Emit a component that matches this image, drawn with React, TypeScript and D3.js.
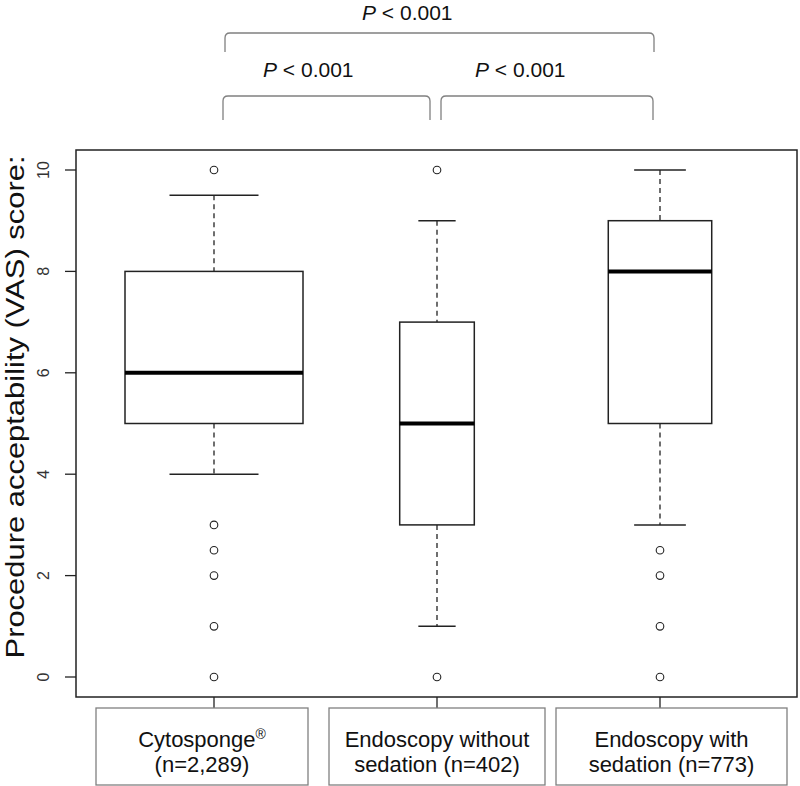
import React from "react";
import * as d3 from "d3";

const categories = ["Cytosponge", "Endoscopy without sedation", "Endoscopy with sedation"];
const labelLines = [
  ["Cytosponge\u00AE", "(n=2,289)"],
  ["Endoscopy without", "sedation (n=402)"],
  ["Endoscopy with", "sedation (n=773)"],
];
const sampleSizes = [2289, 402, 773];
const whiskerLow = [4, 1, 3];
const q1 = [5, 3, 5];
const medians = [6, 5, 8];
const q3 = [8, 7, 9];
const whiskerHigh = [9.5, 9, 10];
const outliers = [
  [10, 3, 2.5, 2, 1, 0],
  [10, 0],
  [2.5, 2, 1, 0],
];
const yTicks = [0, 2, 4, 6, 8, 10];
const pLabel = "P";
const pRest = " < 0.001";

const W = 800;
const H = 786;
const frame = { left: 76, right: 797, top: 150, bottom: 697 };
const FONT = "'Liberation Sans', Arial, Helvetica, sans-serif";

export default function App() {
  const y = d3.scaleLinear().domain([0, 10]).range([677, 170]);
  const x = d3.scaleLinear().domain([1, 3]).range([214, 660]);
  const wScale = d3.scaleSqrt().domain([0, d3.max(sampleSizes)!]).range([0, 178]);
  const labelBoxes = [
    [96, 308],
    [329, 545],
    [556, 787],
  ];
  const stroke = "#222";
  const gray = "#808080";

  const bracket = (x1: number, x2: number, yTop: number, yBot: number, r = 5) =>
    `M${x1},${yBot} L${x1},${yTop + r} Q${x1},${yTop} ${x1 + r},${yTop} L${x2 - r},${yTop} Q${x2},${yTop} ${x2},${yTop + r} L${x2},${yBot}`;

  const pText = (xs: number, yb: number, key: string) => (
    <text key={key} x={xs} y={yb} fontSize={21} fontFamily={FONT} fill="#111">
      <tspan fontStyle="italic">{pLabel}</tspan>
      <tspan>{pRest}</tspan>
    </text>
  );

  return (
    <svg
      width={W}
      height={H}
      style={{ position: "absolute", left: 0, top: 0, display: "block", background: "#fff" }}
    >
      <rect x={0} y={0} width={W} height={H} fill="#fff" />
      {/* significance brackets */}
      <path d={bracket(225, 654, 33, 52)} fill="none" stroke={gray} strokeWidth={1.3} />
      <path d={bracket(223, 430, 96, 120)} fill="none" stroke={gray} strokeWidth={1.3} />
      <path d={bracket(441, 653, 96, 120)} fill="none" stroke={gray} strokeWidth={1.3} />
      {pText(362, 20, "p0")}
      {pText(263, 77, "p1")}
      {pText(475, 77, "p2")}

      {/* plot frame */}
      <rect
        x={frame.left}
        y={frame.top}
        width={frame.right - frame.left}
        height={frame.bottom - frame.top}
        fill="none"
        stroke={stroke}
        strokeWidth={1.5}
      />

      {/* y axis */}
      {yTicks.map((t) => (
        <g key={t}>
          <line x1={65} x2={frame.left} y1={y(t)} y2={y(t)} stroke={stroke} strokeWidth={1.3} />
          <text
            transform={`translate(49,${y(t)}) rotate(-90)`}
            textAnchor="middle"
            fontSize={16}
            fontFamily={FONT}
            fill="#333"
          >
            {t}
          </text>
        </g>
      ))}
      <text
        transform={`translate(24,${407}) rotate(-90)`}
        textAnchor="middle"
        fontSize={25}
        fontFamily={FONT}
        fill="#111"
        textLength={503}
        lengthAdjust="spacingAndGlyphs"
      >
        Procedure acceptability (VAS) score:
      </text>

      {/* boxes */}
      {categories.map((c, i) => {
        const cx = x(i + 1);
        const bw = wScale(sampleSizes[i]);
        const sw = bw / 2;
        return (
          <g key={c}>
            <line x1={cx} x2={cx} y1={y(whiskerHigh[i])} y2={y(q3[i])} stroke={stroke} strokeWidth={1.3} strokeDasharray="5,4" />
            <line x1={cx} x2={cx} y1={y(q1[i])} y2={y(whiskerLow[i])} stroke={stroke} strokeWidth={1.3} strokeDasharray="5,4" />
            <line x1={cx - sw / 2} x2={cx + sw / 2} y1={y(whiskerHigh[i])} y2={y(whiskerHigh[i])} stroke={stroke} strokeWidth={1.5} />
            <line x1={cx - sw / 2} x2={cx + sw / 2} y1={y(whiskerLow[i])} y2={y(whiskerLow[i])} stroke={stroke} strokeWidth={1.5} />
            <rect x={cx - bw / 2} y={y(q3[i])} width={bw} height={y(q1[i]) - y(q3[i])} fill="#fff" stroke={stroke} strokeWidth={1.5} />
            <line x1={cx - bw / 2} x2={cx + bw / 2} y1={y(medians[i])} y2={y(medians[i])} stroke="#000" strokeWidth={4} />
            {outliers[i].map((o, j) => (
              <circle key={j} cx={cx} cy={y(o)} r={3.8} fill="#fff" stroke={stroke} strokeWidth={1.1} />
            ))}
            <line x1={cx} x2={cx} y1={frame.bottom} y2={708} stroke={stroke} strokeWidth={1.3} />
          </g>
        );
      })}

      {/* category label boxes */}
      {labelLines.map((lines, i) => {
        const [l, r] = labelBoxes[i];
        const mid = (l + r) / 2;
        return (
          <g key={i}>
            <rect x={l} y={708} width={r - l} height={77} fill="#fff" stroke={gray} strokeWidth={1.3} />
            {lines.map((ln, k) => (
              <text key={k} x={mid} y={747 + k * 25} textAnchor="middle" fontSize={22} fontFamily={FONT} fill="#111">
                {ln.endsWith("\u00AE") ? (
                  <>
                    {ln.slice(0, -1)}
                    <tspan fontSize={14} dy={-8}>{"\u00AE"}</tspan>
                  </>
                ) : (
                  ln
                )}
              </text>
            ))}
          </g>
        );
      })}
    </svg>
  );
}
